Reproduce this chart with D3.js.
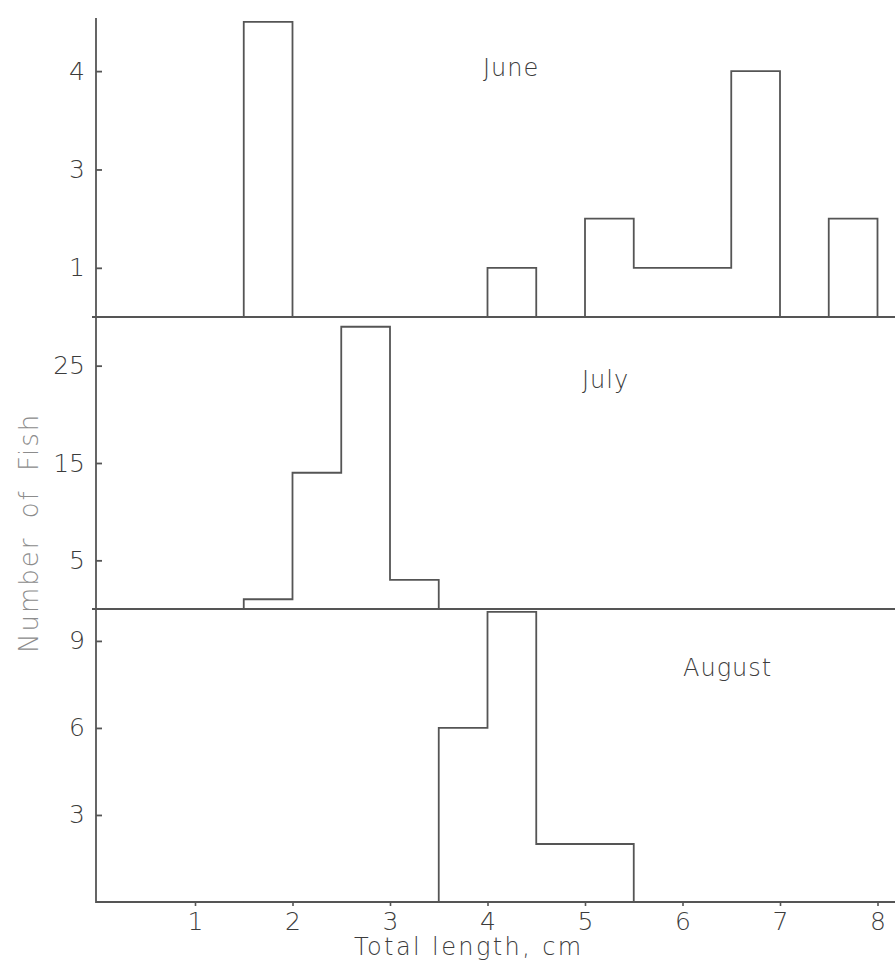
<!DOCTYPE html>
<html>
<head>
<meta charset="utf-8">
<script src="https://cdn.jsdelivr.net/npm/d3@7"></script>
<style>
  html, body { margin: 0; padding: 0; background: #ffffff; }
  svg { display: block; }
  text { font-weight: 300; }
</style>
</head>
<body>
<svg id="chart" width="895" height="966"></svg>
<script>
// Length classes: lower edge of each 0.5 cm class (the last class ends at 8.0 cm)
const binStarts = [1.5, 2.0, 2.5, 3.0, 3.5, 4.0, 4.5, 5.0, 5.5, 6.0, 6.5, 7.0, 7.5];
const binWidth = 0.5;

// Number of fish per length class, by month
const months = ["June", "July", "August"];
const juneCounts   = [6, 0, 0, 0, 0, 1, 0, 2, 1, 1, 5, 0, 2];
const julyCounts   = [1, 14, 29, 3, 0, 0, 0, 0, 0, 0, 0, 0, 0];
const augustCounts = [0, 0, 0, 0, 6, 10, 2, 2, 0, 0, 0, 0, 0];

// Axis ticks and labels
const xTicks = [1, 2, 3, 4, 5, 6, 7, 8];
const juneTicks = [1, 3, 5];
const juneTickLabels = ["1", "3", "4"];   // labels as printed on the June axis
const julyTicks = [5, 15, 25];
const augustTicks = [3, 6, 9];
const xTitle = "Total length, cm";
const yTitle = "Number of Fish";

const W = 895, H = 966;
const axisX = 96;
const ink = "#555555";
const textInk = "#3c3c3c";
const font = "'DejaVu Sans', sans-serif";

const svg = d3.select("#chart");
svg.append("rect").attr("width", W).attr("height", H).attr("fill", "#ffffff");

const x = d3.scaleLinear().domain([0, 8.2]).range([97.5, 897]);

// Three stacked panels sharing the length axis
const panels = [
  { name: months[0], counts: juneCounts,   ticks: juneTicks,   labels: juneTickLabels,
    y: d3.scaleLinear().domain([0, 6.08]).range([317, 18]),  label: [483, 76] },
  { name: months[1], counts: julyCounts,   ticks: julyTicks,   labels: null,
    y: d3.scaleLinear().domain([0, 30]).range([609, 317]),   label: [582, 388] },
  { name: months[2], counts: augustCounts, ticks: augustTicks, labels: null,
    y: d3.scaleLinear().domain([0, 10.1]).range([902, 609]), label: [683, 676] }
];

const lineStyle = sel => sel.attr("stroke", ink).attr("stroke-width", 1.8).attr("fill", "none");

panels.forEach((p, pi) => {
  const y = p.y;
  const g = svg.append("g");

  // Baseline of the panel
  g.append("line")
    .attr("x1", pi === 2 ? axisX : 92).attr("x2", W)
    .attr("y1", y(0)).attr("y2", y(0))
    .call(lineStyle);

  // Histogram outline drawn as a step path
  const path = d3.path();
  path.moveTo(x(binStarts[0]), y(0));
  p.counts.forEach((c, i) => {
    path.lineTo(x(binStarts[i]), y(c));
    path.lineTo(x(binStarts[i] + binWidth), y(c));
  });
  path.lineTo(x(binStarts[binStarts.length - 1] + binWidth), y(0));
  g.append("path").attr("d", path.toString())
    .call(lineStyle).attr("stroke-linejoin", "miter");

  // Count axis for the panel
  const axis = d3.axisLeft(y)
    .tickValues(p.ticks)
    .tickSizeInner(-6).tickSizeOuter(0).tickPadding(11)
    .tickFormat((d, i) => p.labels ? p.labels[i] : d3.format("d")(d));
  const ag = g.append("g").attr("transform", `translate(${axisX},0)`).call(axis);
  ag.select(".domain").remove();
  ag.selectAll(".tick line").attr("stroke", ink).attr("stroke-width", 1.8);
  ag.selectAll(".tick text")
    .attr("fill", textInk).attr("font-family", font).attr("font-size", 25);

  // Month label
  g.append("text")
    .attr("x", p.label[0]).attr("y", p.label[1])
    .attr("font-family", font).attr("font-size", 24)
    .attr("letter-spacing", 1)
    .attr("fill", textInk)
    .text(p.name);
});

// Shared vertical axis line
svg.append("line")
  .attr("x1", axisX).attr("x2", axisX)
  .attr("y1", 18).attr("y2", 903)
  .call(lineStyle);

// Length axis ticks and labels
const xa = svg.append("g").attr("transform", `translate(0,${panels[2].y(0)})`)
  .call(d3.axisBottom(x).tickValues(xTicks).tickSize(4).tickPadding(6).tickFormat(d3.format("d")));
xa.select(".domain").remove();
xa.selectAll(".tick line").attr("stroke", ink).attr("stroke-width", 1.6);
xa.selectAll(".tick text")
  .attr("fill", textInk).attr("font-family", font).attr("font-size", 25);

// Axis titles
svg.append("text")
  .attr("x", 354).attr("y", 955)
  .attr("font-family", font).attr("font-size", 24)
  .attr("letter-spacing", 2.4)
  .attr("fill", textInk)
  .text(xTitle);

svg.append("text")
  .attr("transform", "translate(38,653) rotate(-90)")
  .attr("font-family", font).attr("font-size", 26)
  .attr("letter-spacing", 2).attr("word-spacing", 8)
  .attr("fill", "#8c8c8c")
  .text(yTitle);
</script>
</body>
</html>
